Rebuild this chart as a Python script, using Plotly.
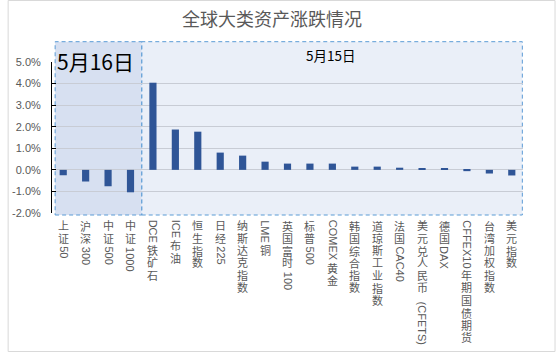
import plotly.graph_objects as go

# ---------------- data ----------------
categories = ["上证50", "沪深300", "中证500", "中证1000", "DCE铁矿石", "ICE布油", "恒生指数",
              "日经225", "纳斯达克指数", "LME铜", "英国富时100", "标普500", "COMEX黄金",
              "韩国综合指数", "道琼斯工业指数", "法国CAC40", "美元兑人民币 (CFETS)", "德国DAX",
              "CFFEX10年期国债期货", "台湾加权指数", "美元指数"]
values_pct = [-0.25, -0.54, -0.76, -1.04, 4.04, 1.87, 1.77,
              0.80, 0.66, 0.38, 0.29, 0.29, 0.29,
              0.15, 0.15, 0.10, 0.06, 0.06,
              -0.06, -0.17, -0.26]
values = [v / 100 for v in values_pct]
tick_vals = [-0.02, -0.01, 0.0, 0.01, 0.02, 0.03, 0.04, 0.05]
tick_text = ["-2.0%", "-1.0%", "0.0%", "1.0%", "2.0%", "3.0%", "4.0%", "5.0%"]
title_text = "全球大类资产涨跌情况"
group_labels = ["5月16日", "5月15日"]
group_spans = [(-0.36, 3.5), (3.5, 20.47)]

# ---------------- layout constants ----------------
W, H = 556, 352
ML, MR, MT, MB = 45, 33, 62, 139
PW, PH = W - ML - MR, H - MT - MB

GREY = "#595959"
LATIN = "Liberation Sans, Arial, Noto Sans CJK SC"
CJK = "Noto Sans CJK SC"

fig = go.Figure()
fig.add_trace(go.Bar(x=categories, y=values, marker=dict(color="#2f5597", line=dict(width=0)),
                     width=0.32, hoverinfo="x+y"))

# ---------------- vertical category labels (CJK upright, latin rotated) ----------------
LAT_W = {str(d): 0.556 for d in range(10)}
LAT_W.update({"A": .667, "B": .667, "C": .722, "D": .722, "E": .667, "F": .611, "G": .778,
              "H": .722, "I": .278, "L": .556, "M": .833, "N": .722, "O": .778, "P": .667,
              "S": .667, "T": .611, "X": .667, " ": .278, "(": .333, ")": .333})
CJK_SIZE, CJK_STEP, LAT_SIZE = 11, 12.4, 11


def is_cjk(ch):
    return ord(ch) >= 0x2E80


annotations = []
for cat in categories:
    runs = []
    buf = ""
    for ch in cat:
        if is_cjk(ch):
            if buf:
                runs.append(("lat", buf))
                buf = ""
            runs.append(("cjk", ch))
        else:
            buf += ch
    if buf:
        runs.append(("lat", buf))
    cursor = 7.0
    prev = None
    for kind, txt in runs:
        if prev is not None and prev != kind:
            cursor += 1.5
        if kind == "cjk":
            L = CJK_STEP
            annotations.append(dict(x=cat, xref="x", y=0, yref="paper", text=txt, showarrow=False,
                                    xanchor="center", yanchor="middle", yshift=-(cursor + L / 2),
                                    borderpad=0, font=dict(family=LATIN, size=CJK_SIZE, color=GREY)))
        else:
            if txt.startswith(" "):
                cursor += LAT_W[" "] * LAT_SIZE + 2
                txt = txt.strip()
            L = sum(LAT_W.get(c, 0.6) for c in txt) * LAT_SIZE
            annotations.append(dict(x=cat, xref="x", y=0, yref="paper", text=txt, showarrow=False,
                                    textangle=90, xanchor="center", yanchor="middle",
                                    yshift=-(cursor + L / 2), borderpad=0,
                                    font=dict(family=LATIN, size=LAT_SIZE, color=GREY)))
        cursor += L
        prev = kind

# group headers
annotations.append(dict(x=1.46, xref="x", y=(PH - (61 - MT)) / PH, yref="paper", text=group_labels[0],
                        showarrow=False, xanchor="center", yanchor="middle",
                        font=dict(family=CJK, size=21, color="#000000")))
annotations.append(dict(x=11.92, xref="x", y=(PH - (55 - MT)) / PH, yref="paper", text=group_labels[1],
                        showarrow=False, xanchor="center", yanchor="middle",
                        font=dict(family=CJK, size=13.5, color="#000000")))

# ---------------- shapes ----------------
box_top = 1 + (MT - 41.7) / PH
box_bot = -(215 - (MT + PH)) / PH
shapes = [
    dict(type="rect", xref="x", yref="paper", x0=group_spans[1][0], x1=group_spans[1][1],
         y0=box_bot, y1=box_top, fillcolor="#eaeff8", layer="below",
         line=dict(color="#5b9bd5", width=1, dash="4px,3px")),
    dict(type="rect", xref="x", yref="paper", x0=group_spans[0][0], x1=group_spans[0][1],
         y0=box_bot, y1=box_top, fillcolor="#d7e0f1", layer="below",
         line=dict(color="#5b9bd5", width=1, dash="4px,3px")),
    # outer frame of the picture
    dict(type="rect", xref="paper", yref="paper",
         x0=(0.5 - ML) / PW, x1=(W - 0.5 - ML) / PW,
         y0=-(H - 0.5 - (MT + PH)) / PH, y1=1 + (MT - 0.5) / PH,
         line=dict(color="#d9d9d9", width=1), layer="below"),
]

fig.update_layout(
    width=W, height=H,
    margin=dict(l=ML, r=MR, t=MT, b=MB, pad=0),
    paper_bgcolor="white", plot_bgcolor="rgba(0,0,0,0)",
    title=dict(text=title_text, x=272 / W, xanchor="center", y=1 - 20 / H, yanchor="middle",
               font=dict(family=CJK, size=18, color=GREY)),
    showlegend=False,
    bargap=0.68,
    annotations=annotations,
    shapes=shapes,
    xaxis=dict(range=[-0.5, len(categories) - 0.5], showticklabels=False, showgrid=False,
               showline=False, ticks="", zeroline=False, fixedrange=True),
    yaxis=dict(range=[-0.02, 0.05], tickvals=tick_vals, ticktext=tick_text,
               showgrid=True, gridcolor="#c8ccd5", gridwidth=1, zeroline=False,
               showline=True, linecolor="#000000", linewidth=1,
               ticks="inside", ticklen=4, tickcolor="#000000", tickwidth=1,
               ticklabelstandoff=8,
               tickfont=dict(family=LATIN, size=11, color=GREY), fixedrange=True),
)

fig.write_html("out.html")
